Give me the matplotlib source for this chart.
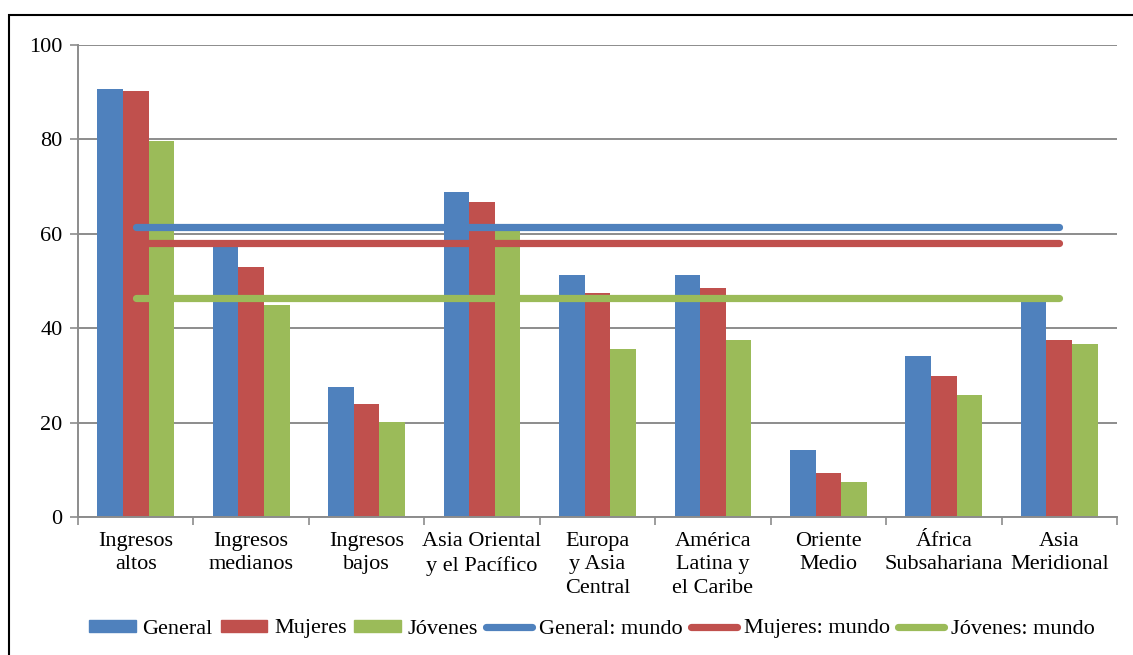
import numpy as np
import matplotlib
matplotlib.use("Agg")
import matplotlib.pyplot as plt
from matplotlib.lines import Line2D
from matplotlib.patches import Patch

plt.rcParams['font.family'] = ['Liberation Serif', 'DejaVu Serif']

# datos
regiones = ["Ingresos\naltos", "Ingresos\nmedianos", "Ingresos\nbajos",
            "Asia Oriental\ny el Pacífico", "Europa\ny Asia\nCentral",
            "América\nLatina y\nel Caribe", "Oriente\nMedio",
            "África\nSubsahariana", "Asia\nMeridional"]
general = [90.6, 58.2, 27.5, 68.8, 51.3, 51.3, 14.1, 34.2, 46.6]
mujeres = [90.3, 53.0, 24.0, 66.8, 47.4, 48.6, 9.3, 29.9, 37.4]
jovenes = [79.7, 44.9, 20.1, 61.0, 35.5, 37.4, 7.5, 25.8, 36.7]
general_mundo = 61.5
mujeres_mundo = 58.1
jovenes_mundo = 46.3

azul = "#4F81BD"
rojo = "#C0504D"
verde = "#9BBB59"

fig = plt.figure(figsize=(11.33, 6.55), dpi=100)
ax = fig.add_axes([78/1133, 1-517/655, (1117-78)/1133, (517-45)/655])

x = np.arange(len(regiones))
w = 0.222
ax.bar(x - w, general, w, color=azul, zorder=2)
ax.bar(x, mujeres, w, color=rojo, zorder=2)
ax.bar(x + w, jovenes, w, color=verde, zorder=2)

for val, col in [(general_mundo, azul), (mujeres_mundo, rojo), (jovenes_mundo, verde)]:
    ax.plot([x[0], x[-1]], [val, val], color=col, lw=5.2, solid_capstyle='round', zorder=3)

ax.set_xlim(-0.5, len(regiones) - 0.5)
ax.set_ylim(0, 100)
ax.set_yticks([0, 20, 40, 60, 80, 100])
ax.yaxis.grid(True, color="#8c8c8c", lw=1.4, zorder=0)
ax.set_axisbelow(True)

ax.set_xticks(np.arange(len(regiones) + 1) - 0.5)
ax.set_xticklabels([])
ax.set_xticks(x, minor=True)
ax.set_xticklabels(regiones, minor=True, fontsize=16, linespacing=1.3)
ax.tick_params(axis='x', which='minor', length=0, pad=11)
ax.tick_params(axis='x', which='major', length=6, color="#8c8c8c", width=1.2)
ax.tick_params(axis='y', length=6, color="#8c8c8c", width=1.2, labelsize=16, pad=5)

for s in ['top', 'right']:
    ax.spines[s].set_visible(False)
for s in ['left', 'bottom']:
    ax.spines[s].set_color("#8c8c8c")
    ax.spines[s].set_linewidth(1.4)

handles = [Patch(color=azul), Patch(color=rojo), Patch(color=verde),
           Line2D([], [], color=azul, lw=5.2, solid_capstyle='round'),
           Line2D([], [], color=rojo, lw=5.2, solid_capstyle='round'),
           Line2D([], [], color=verde, lw=5.2, solid_capstyle='round')]
etiquetas = ["General", "Mujeres", "Jóvenes", "General: mundo", "Mujeres: mundo", "Jóvenes: mundo"]
fig.legend(handles, etiquetas, loc='center', bbox_to_anchor=(592/1133, 1-629/655), ncol=6,
           frameon=False, fontsize=16, handlelength=2.1, handleheight=0.45,
           handletextpad=0.3, columnspacing=0.35)

# marco exterior
fig.add_artist(plt.Rectangle((9/1133, -0.1), 1.2, 1.1 - 15/655, transform=fig.transFigure,
                             fill=False, edgecolor="black", lw=1.5))

fig.savefig("out.png", dpi=100)
